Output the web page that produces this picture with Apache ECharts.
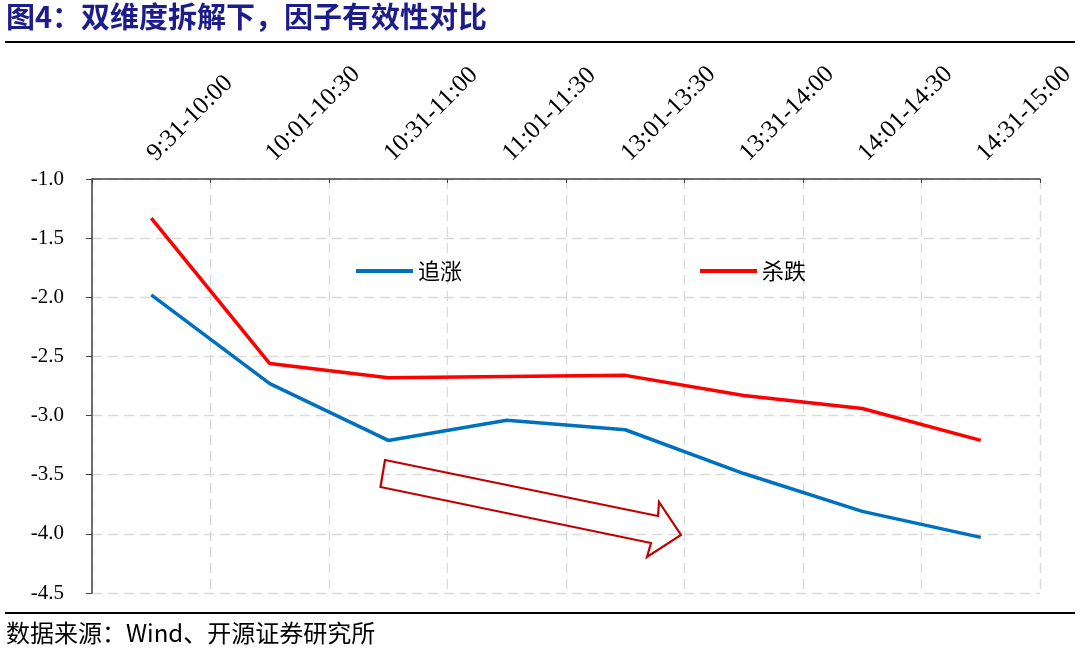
<!DOCTYPE html>
<html><head><meta charset="utf-8">
<script src="https://cdn.jsdelivr.net/npm/echarts@6/dist/echarts.min.js"></script>
<style>html,body{margin:0;padding:0;background:#fff}#c{width:1080px;height:651px}</style>
</head><body><div id="c"></div>
<script>
const categories = ['9:31-10:00','10:01-10:30','10:31-11:00','11:01-11:30','13:01-13:30','13:31-14:00','14:01-14:30','14:31-15:00'];
const chaseUp = [-1.98,-2.73,-3.21,-3.04,-3.12,-3.49,-3.81,-4.03];
const killDown = [-1.33,-2.56,-2.68,-2.67,-2.66,-2.83,-2.94,-3.21];
const seriesNames = ['追涨','杀跌'];
const titleText = '图4：双维度拆解下，因子有效性对比';
const sourceText = '数据来源：Wind、开源证券研究所';

const chart = echarts.init(document.getElementById('c'), null, {renderer:'canvas'});
const serif = '"Liberation Serif","Times New Roman",serif';
const cjk = '"Noto Sans CJK SC","Noto Sans",sans-serif';
chart.setOption({
  animation:false,
  backgroundColor:'#fff',
  grid:{left:92,right:40,top:179,bottom:58,containLabel:false},
  legend:{
    data:[{name:seriesNames[0],icon:'rect'},{name:seriesNames[1],icon:'rect'}],
    left:351, top:255, itemWidth:57, itemHeight:4, itemGap:238,
    textStyle:{fontFamily:cjk,fontSize:22,color:'#000'}
  },
  xAxis:{
    type:'category', position:'top', data:categories, boundaryGap:true,
    axisLine:{lineStyle:{color:'#404040',width:1.5}},
    axisTick:{show:true,inside:true,length:4,lineStyle:{color:'#404040'}},
    axisLabel:{rotate:-45,margin:22,fontFamily:serif,fontSize:25,color:'#000',interval:0},
    splitLine:{show:true,lineStyle:{type:[10,6],color:'#d9d9d9',width:1.3}}
  },
  yAxis:{
    type:'value', min:-4.5, max:-1.0, interval:0.5,
    axisLine:{show:true,lineStyle:{color:'#404040',width:1.5}},
    axisTick:{show:true,length:6,lineStyle:{color:'#404040'}},
    axisLabel:{formatter:v=>v.toFixed(1),fontFamily:serif,fontSize:21,color:'#000',margin:28},
    splitLine:{show:true,lineStyle:{type:[10,6],color:'#d9d9d9',width:1.3}}
  },
  series:[
    {name:seriesNames[0],type:'line',data:chaseUp,symbol:'none',color:'#0070C0',lineStyle:{width:3.5,color:'#0070C0'}},
    {name:seriesNames[1],type:'line',data:killDown,symbol:'none',color:'#FF0000',lineStyle:{width:3.5,color:'#FF0000'}}
  ],
  graphic:[
    {type:'text',left:6,top:2,style:{text:titleText,fontFamily:cjk,fontWeight:'bold',fontSize:29,fill:'#1c1c8c'}},
    {type:'line',shape:{x1:5,y1:42,x2:1075,y2:42},style:{stroke:'#000',lineWidth:2}},
    {type:'line',shape:{x1:5,y1:613,x2:1075,y2:613},style:{stroke:'#000',lineWidth:2}},
    {type:'text',left:6,top:621,style:{text:sourceText,fontFamily:cjk,fontSize:24,fill:'#000'}},
    {type:'polygon',shape:{points:[[385,460],[658,516],[659,502],[681,535],[647,557],[651,543],[380.5,487]]},
     style:{fill:'none',stroke:'#C00000',lineWidth:2.2},z:10}
  ]
});
</script></body></html>
